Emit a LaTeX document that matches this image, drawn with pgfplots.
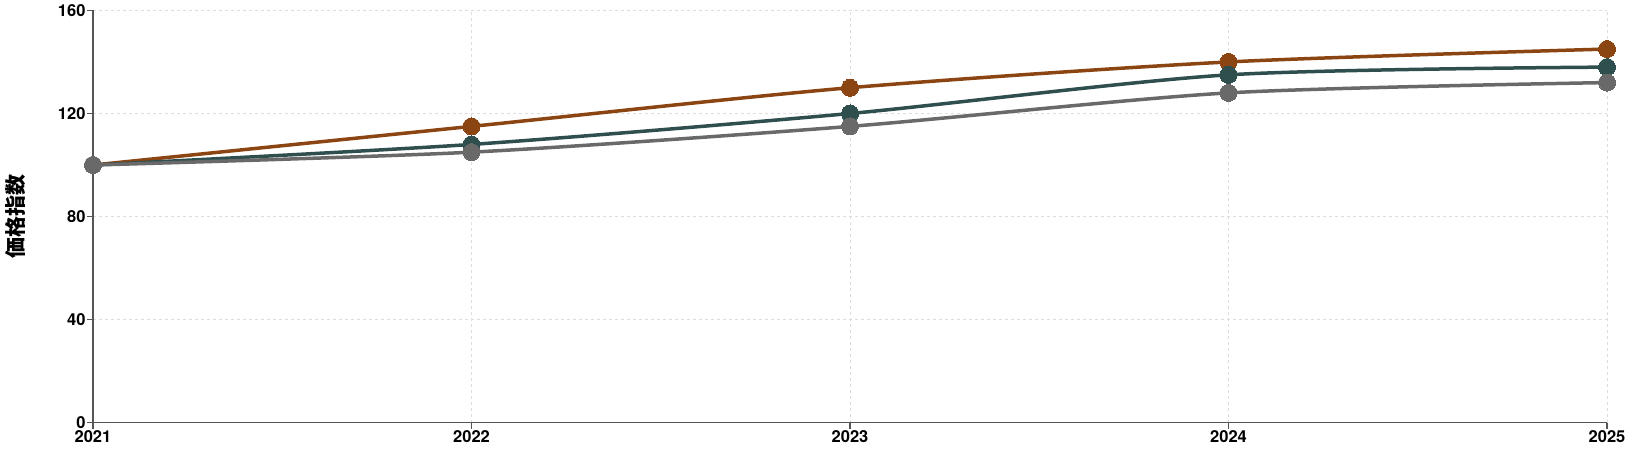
\documentclass[border=0pt]{standalone}
\usepackage{fontspec}
\setmainfont{TeX Gyre Heros}
\newfontfamily\cjk{Noto Sans CJK JP}
\usepackage{pgfplots}
\pgfplotsset{compat=1.18}
\definecolor{cOrange}{HTML}{8B4513}
\definecolor{cTeal}{HTML}{2F4F4F}
\definecolor{cGray}{HTML}{696969}
\definecolor{axisC}{HTML}{555555}
\definecolor{gridC}{HTML}{DDDDDD}
\begin{document}
\begin{tikzpicture}[x=1pt,y=1pt]
\path[use as bounding box] (0,0) rectangle (1633,452);
\begin{axis}[
  at={(93pt,29.2pt)}, anchor=south west,
  scale only axis, width=1514pt, height=412.4pt,
  xmin=2021, xmax=2025, ymin=0, ymax=160,
  xtick={2021,2022,2023,2024,2025},
  ytick={0,40,80,120,160},
  axis x line*=bottom, axis y line*=left,
  axis line style={axisC, line width=1.4pt, -},
  tick style={axisC, line width=1.2pt},
  tick align=outside, major tick length=6pt,
  grid=major,
  major grid style={gridC, dashed, line width=0.9pt},
  /pgf/number format/assume math mode=true,
  /pgf/number format/set thousands separator={},
  ticklabel style={font=\bfseries\fontsize{16.5}{16.5}\selectfont, text=black},
  xticklabel style={yshift=2pt},
  yticklabel style={xshift=2pt},
  ylabel={\cjk\bfseries\fontsize{21}{21}\selectfont 価格指数},
  ylabel style={at={(axis description cs:0,0.5)}, anchor=south, yshift=64pt},
  clip=false,
]
\addplot[cOrange, line width=3.5pt, smooth, tension=0.45, mark=*, mark size=8.5pt, mark options={solid, fill=cOrange, draw=cOrange, line width=0pt}]
  coordinates {(2021,100) (2022,115) (2023,130) (2024,140) (2025,145)};
\addplot[cTeal, line width=3.5pt, smooth, tension=0.45, mark=*, mark size=8.5pt, mark options={solid, fill=cTeal, draw=cTeal, line width=0pt}]
  coordinates {(2021,100) (2022,108) (2023,120) (2024,135) (2025,138)};
\addplot[cGray, line width=3.5pt, smooth, tension=0.45, mark=*, mark size=8.5pt, mark options={solid, fill=cGray, draw=cGray, line width=0pt}]
  coordinates {(2021,100) (2022,105) (2023,115) (2024,128) (2025,132)};
\end{axis}
\end{tikzpicture}
\end{document}
